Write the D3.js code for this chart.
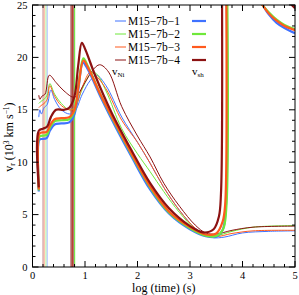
<!DOCTYPE html>
<html>
<head>
<meta charset="utf-8">
<script src="https://cdn.jsdelivr.net/npm/d3@7"></script>
<style>
  body { margin: 0; background: #fff; }
  text { font-family: "Liberation Serif", "DejaVu Serif", serif; fill: #000; }
</style>
</head>
<body>
<div id="chart"></div>
<script>
// models and colours
const models = ["M15\u22127b\u22121", "M15\u22127b\u22122", "M15\u22127b\u22123", "M15\u22127b\u22124"];
const colors = ["#3f72ff", "#6fe83a", "#ff5a1e", "#8c1212"];

// shock velocity v_sh (thick lines), [log t, v]
const vsh1 = [[0.12,7.2],[0.12,12.0],[0.15,12.2],[0.27,12.3],[0.33,13.0],[0.42,13.6],[0.55,13.7],[0.7,13.8],[0.8,14.6],[0.88,17.2],[0.96,19.5],[1.05,18.9],[1.3,16.2],[1.6,13.2],[1.9,10.4],[2.24,7.4],[2.6,5.1],[3.0,3.6],[3.3,2.95],[3.5,2.9],[3.62,3.5],[3.68,5.5],[3.7,26]];
const vsh2 = [[0.12,7.3],[0.12,12.3],[0.15,12.5],[0.27,12.6],[0.33,13.3],[0.42,13.9],[0.55,14.0],[0.7,14.1],[0.8,14.9],[0.88,17.5],[0.97,19.9],[1.06,19.1],[1.3,16.4],[1.6,13.4],[1.9,10.6],[2.24,7.6],[2.6,5.2],[3.0,3.7],[3.3,3.0],[3.5,2.95],[3.63,3.6],[3.69,5.5],[3.71,26]];
const vsh3 = [[0.12,7.4],[0.12,12.6],[0.15,12.8],[0.27,12.9],[0.33,13.5],[0.42,14.1],[0.55,14.2],[0.7,14.3],[0.8,15.0],[0.88,17.4],[0.97,19.7],[1.06,19.0],[1.3,16.4],[1.6,13.5],[1.9,10.7],[2.24,7.7],[2.6,5.3],[3.0,3.8],[3.3,3.1],[3.5,3.2],[3.62,4.3],[3.67,6],[3.69,26]];
const vsh4 = [[0.12,7.6],[0.12,13.0],[0.2,13.2],[0.28,13.4],[0.35,14.3],[0.45,15.0],[0.6,15.0],[0.7,15.2],[0.8,16.3],[0.87,19.2],[0.94,21.4],[1.01,20.7],[1.2,18.2],[1.5,14.8],[1.9,11.0],[2.24,8.0],[2.6,5.6],[3.0,3.9],[3.25,3.3],[3.45,3.6],[3.55,4.8],[3.59,7],[3.61,26]];
// re-entry of v_sh at the top right
const vshTop1 = [[4.35,25.3],[4.5,24.1],[4.65,23.3],[4.8,22.8],[5.0,22.3]];
const vshTop2 = [[4.33,25.3],[4.5,24.3],[4.65,23.6],[4.8,23.1],[5.0,22.7]];
const vshTop3 = [[4.34,25.3],[4.5,24.2],[4.65,23.5],[4.8,23.0],[5.0,22.6]];
const vshTop4 = [[4.88,25.3],[5.0,24.7]];

// Ni velocity v_Ni (thin lines)
const vni1 = [[0.12,14.3],[0.14,15.0],[0.17,14.6],[0.22,15.2],[0.28,15.5],[0.35,16.9],[0.42,16.0],[0.55,15.0],[0.7,14.6],[0.8,14.8],[0.95,16.5],[1.1,17.8],[1.22,18.3],[1.4,17.3],[1.7,14.3],[2.0,11.9],[2.24,9.9],[2.5,7.6],[2.8,5.4],[3.1,3.7],[3.3,3.1],[3.45,2.8],[3.65,2.85],[4.0,3.25],[4.5,3.4],[5.0,3.45]];
const vni2 = [[0.12,15.6],[0.16,15.8],[0.22,16.0],[0.28,16.4],[0.33,17.5],[0.42,16.5],[0.55,15.6],[0.7,15.0],[0.8,15.2],[0.95,17.0],[1.1,18.4],[1.2,18.5],[1.4,16.8],[1.7,13.2],[2.0,10.8],[2.24,9.1],[2.5,7.2],[2.8,5.2],[3.1,3.6],[3.3,3.1],[3.5,3.0],[3.8,3.4],[4.2,3.8],[5.0,3.95]];
const vni3 = [[0.12,15.2],[0.16,15.4],[0.22,15.6],[0.28,16.0],[0.33,17.3],[0.42,16.3],[0.55,15.4],[0.7,15.0],[0.8,15.1],[0.95,17.2],[1.1,18.6],[1.2,18.3],[1.4,17.0],[1.7,14.0],[2.0,11.9],[2.24,9.9],[2.5,7.6],[2.8,5.4],[3.1,3.7],[3.3,3.1],[3.5,2.9],[3.8,3.2],[4.2,3.45],[5.0,3.5]];
const vni4 = [[0.12,16.4],[0.14,16.0],[0.18,16.3],[0.24,16.5],[0.32,18.3],[0.45,17.6],[0.6,16.8],[0.8,16.2],[1.0,17.6],[1.15,18.8],[1.28,19.3],[1.45,18.6],[1.7,15.3],[2.0,12.5],[2.24,10.5],[2.5,8.0],[2.8,5.8],[3.1,4.0],[3.3,3.25],[3.5,3.15],[3.8,3.5],[4.2,3.8],[5.0,3.9]];

// vertical jumps of the Ni front (log t of each jump, per model)
const niJumpEarly = [0.28, 0.255, 0.225, 0.20];
const niJumpLate = [0.785, 0.80, 0.77, 0.745];

const xTicks = [0, 1, 2, 3, 4, 5];
const yTicks = [0, 5, 10, 15, 20, 25];

const W = 299, H = 295;
const margin = { top: 5, right: 4, bottom: 28, left: 32.5 };
const width = W - margin.left - margin.right,
    height = H - margin.top - margin.bottom;

const svg = d3.select("#chart").append("svg")
    .attr("width", W).attr("height", H);

svg.append("defs").append("clipPath").attr("id", "clip")
    .append("rect").attr("width", width).attr("height", height);

const g = svg.append("g")
    .attr("transform", `translate(${margin.left},${margin.top})`);

const x = d3.scaleLinear().domain([0, 5]).range([0, width]);
const y = d3.scaleLinear().domain([0, 25]).range([height, 0]);

const line = d3.line()
    .x(d => x(d[0])).y(d => y(d[1]))
    .curve(d3.curveCatmullRom.alpha(0.5));

const plot = g.append("g").attr("clip-path", "url(#clip)");

// faded early jumps
niJumpEarly.forEach((t, i) => {
    plot.append("line")
        .attr("x1", x(t)).attr("x2", x(t))
        .attr("y1", y(0)).attr("y2", y(25))
        .attr("stroke", colors[i]).attr("stroke-opacity", 0.4)
        .attr("stroke-width", 1.2);
});
// later jumps
niJumpLate.forEach((t, i) => {
    plot.append("line")
        .attr("x1", x(t)).attr("x2", x(t))
        .attr("y1", y(0)).attr("y2", y(25))
        .attr("stroke", colors[i]).attr("stroke-opacity", i === 3 ? 0.65 : 0.9)
        .attr("stroke-width", i === 3 ? 2.6 : 1.4);
});

const vni = [vni1, vni2, vni3, vni4];
const vsh = [vsh1, vsh2, vsh3, vsh4];
const vshTop = [vshTop1, vshTop2, vshTop3, vshTop4];

vni.forEach((s, i) => {
    plot.append("path").datum(s)
        .attr("d", line).attr("fill", "none")
        .attr("stroke", colors[i]).attr("stroke-width", 1);
});
vsh.forEach((s, i) => {
    plot.append("path").datum(s)
        .attr("d", line).attr("fill", "none")
        .attr("stroke", colors[i]).attr("stroke-width", 2.2)
        .attr("stroke-linejoin", "round");
    plot.append("path").datum(vshTop[i])
        .attr("d", line).attr("fill", "none")
        .attr("stroke", colors[i]).attr("stroke-width", 2.2);
});

// frame
g.append("rect").attr("width", width).attr("height", height)
    .attr("fill", "none").attr("stroke", "#000").attr("stroke-width", 1);

// ticks on all four sides, pointing inward
const xMinor = d3.range(0, 5.001, 0.2);
const yMinor = d3.range(0, 25.001, 1);
const tk = g.append("g").attr("stroke", "#000").attr("stroke-width", 1);
xMinor.forEach(v => {
    const len = Math.abs(v - Math.round(v)) < 1e-6 ? 6 : 3;
    tk.append("line").attr("x1", x(v)).attr("x2", x(v)).attr("y1", height).attr("y2", height - len);
    tk.append("line").attr("x1", x(v)).attr("x2", x(v)).attr("y1", 0).attr("y2", len);
});
yMinor.forEach(v => {
    const len = v % 5 === 0 ? 6 : 3;
    tk.append("line").attr("y1", y(v)).attr("y2", y(v)).attr("x1", 0).attr("x2", len);
    tk.append("line").attr("y1", y(v)).attr("y2", y(v)).attr("x1", width).attr("x2", width - len);
});

// tick labels
g.selectAll(".xl").data(xTicks).enter().append("text")
    .attr("x", d => x(d)).attr("y", height + 12)
    .attr("text-anchor", "middle").style("font-size", "10.5px")
    .text(d => d);
g.selectAll(".yl").data(yTicks).enter().append("text")
    .attr("x", -5).attr("y", d => y(d) + 3.5)
    .attr("text-anchor", "end").style("font-size", "10.5px")
    .text(d => d);

// axis titles
g.append("text")
    .attr("x", width / 2).attr("y", height + 25)
    .attr("text-anchor", "middle").style("font-size", "12px")
    .text("log (time) (s)");

const yt = g.append("text")
    .attr("transform", `translate(${-20},${height / 2 + 1}) rotate(-90)`)
    .attr("text-anchor", "middle").style("font-size", "12px");
yt.append("tspan").text("v");
yt.append("tspan").attr("dy", 2).style("font-size", "7.5px").text("r");
yt.append("tspan").attr("dy", -2).text(" (10");
yt.append("tspan").attr("dy", -4).style("font-size", "7.5px").text("3");
yt.append("tspan").attr("dy", 4).text(" km s");
yt.append("tspan").attr("dy", -4).style("font-size", "7.5px").text("\u22121");
yt.append("tspan").attr("dy", 4).text(")");

// legend
const leg = svg.append("g");
models.forEach((m, i) => {
    const ly = 21 + i * 13;
    leg.append("line").attr("x1", 115).attr("x2", 126).attr("y1", ly).attr("y2", ly)
        .attr("stroke", colors[i]).attr("stroke-width", 1);
    leg.append("text").attr("x", 128).attr("y", ly + 4)
        .style("font-size", "11.5px").text(m);
    leg.append("line").attr("x1", 192).attr("x2", 206).attr("y1", ly).attr("y2", ly)
        .attr("stroke", colors[i]).attr("stroke-width", 2.2);
});
const l1 = leg.append("text").attr("x", 112).attr("y", 75).style("font-size", "11px");
l1.append("tspan").text("v");
l1.append("tspan").attr("dy", 2).style("font-size", "7px").text("Ni");
const l2 = leg.append("text").attr("x", 192).attr("y", 75).style("font-size", "11px");
l2.append("tspan").text("v");
l2.append("tspan").attr("dy", 2).style("font-size", "7px").text("sh");
</script>
</body>
</html>
